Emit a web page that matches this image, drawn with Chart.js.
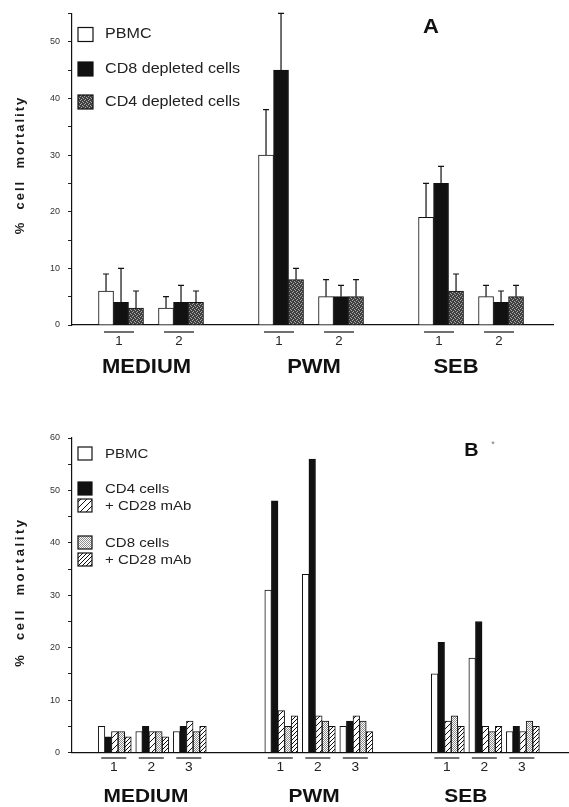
<!DOCTYPE html>
<html><head><meta charset="utf-8">
<script src="https://cdn.jsdelivr.net/npm/chart.js@4.4.1/dist/chart.umd.min.js"></script>
<style>
html,body{margin:0;padding:0;background:#fff;}
#wrap{position:relative;width:569px;height:807px;overflow:hidden;background:#fff;}
canvas{position:absolute;left:0;}
</style></head><body>
<div id="wrap">
<canvas id="cA" width="569" height="400" style="top:0"></canvas>
<canvas id="cB" width="569" height="407" style="top:400px"></canvas>
</div>
<script>
// ---------- Panel A data ----------
const categoriesA = ['MEDIUM', 'PWM', 'SEB'];
const repLabelsA = ['1', '2'];
const seriesA = ['PBMC', 'CD8 depleted cells', 'CD4 depleted cells'];
const pbmcA = [6, 3, 30, 5, 19, 5];
const cd8DepA = [4, 4, 45, 5, 25, 4];
const cd4DepA = [3, 4, 8, 5, 6, 5];
const pbmcErrA = [3, 2, 8, 3, 6, 2];
const cd8DepErrA = [6, 3, 10, 2, 3, 2];
const cd4DepErrA = [3, 2, 2, 3, 3, 2];
const yTicksA = [0, 10, 20, 30, 40, 50];

// ---------- Panel B data ----------
const categoriesB = ['MEDIUM', 'PWM', 'SEB'];
const repLabelsB = ['1', '2', '3'];
const seriesB = ['PBMC', 'CD4 cells', '+ CD28 mAb', 'CD8 cells', '+ CD28 mAb'];
const pbmcB = [5, 4, 4, 31, 34, 5, 15, 18, 4];
const cd4B = [3, 5, 5, 48, 56, 6, 21, 25, 5];
const cd4Cd28B = [4, 4, 6, 8, 7, 7, 6, 5, 4];
const cd8B = [4, 4, 4, 5, 6, 6, 7, 4, 6];
const cd8Cd28B = [3, 3, 5, 7, 5, 4, 5, 5, 5];
const yTicksB = [0, 10, 20, 30, 40, 50, 60];

const FONT = "'Liberation Sans', Arial, Helvetica, sans-serif";
Chart.defaults.font.family = FONT;

function makeStipple(base, dot, pts, size) {
  const c = document.createElement('canvas'); c.width = c.height = size;
  const x = c.getContext('2d'); x.fillStyle = base; x.fillRect(0, 0, size, size);
  x.fillStyle = dot; pts.forEach(p => x.fillRect(p[0], p[1], 1, 1));
  return x.createPattern(c, 'repeat');
}
function makeHatch(s, color, w) {
  const c = document.createElement('canvas'); c.width = c.height = s;
  const x = c.getContext('2d'); x.fillStyle = '#fff'; x.fillRect(0, 0, s, s);
  x.strokeStyle = color; x.lineWidth = w; x.beginPath();
  x.moveTo(0, s); x.lineTo(s, 0); x.moveTo(-1, 1); x.lineTo(1, -1);
  x.moveTo(s - 1, s + 1); x.lineTo(s + 1, s - 1); x.stroke();
  return x.createPattern(c, 'repeat');
}
const darkStipple = makeStipple('#404040', '#a8a8a8', [[0,0],[2,1],[1,3],[3,2]], 4);
const lightStipple = makeStipple('#ffffff', '#8c8c8c', [[0,0],[2,0],[1,1],[3,1],[0,2],[2,2],[1,3],[3,3]], 4);
const sparseHatch = makeHatch(6, '#111', 1);
const denseHatch = makeHatch(4, '#111', 1);

function toPoints(vals, nReps, catStep) {
  return vals.map((v, i) => ({ x: Math.floor(i / nReps) * catStep + (i % nReps), y: v }));
}

function stretchText(ctx, txt, x, y, font, sx, align, color) {
  ctx.save();
  ctx.font = font; ctx.fillStyle = color; ctx.textAlign = align; ctx.textBaseline = 'middle';
  ctx.translate(x, y); ctx.scale(sx, 1); ctx.fillText(txt, 0, 0);
  ctx.restore();
}

const decor = {
  id: 'decor',
  afterDatasetsDraw(chart) {
    const ctx = chart.ctx, ys = chart.scales.y;
    ctx.save();
    ctx.strokeStyle = '#111'; ctx.lineWidth = 1.2;
    chart.data.datasets.forEach((ds, di) => {
      if (!ds.errors) return;
      const meta = chart.getDatasetMeta(di);
      meta.data.forEach((el, j) => {
        const yT = ys.getPixelForValue(ds.data[j].y + ds.errors[j]);
        ctx.beginPath();
        ctx.moveTo(el.x, el.y); ctx.lineTo(el.x, yT);
        ctx.moveTo(el.x - 3, yT); ctx.lineTo(el.x + 3, yT);
        ctx.stroke();
      });
    });
    ctx.restore();
  },
  afterDraw(chart, args, o) {
    const ctx = chart.ctx, xs = chart.scales.x;
    // y title
    const t = o.yTitle;
    ctx.save();
    ctx.translate(t.x, t.y); ctx.rotate(-Math.PI / 2);
    ctx.font = t.font; ctx.fillStyle = '#1a1a1a';
    ctx.letterSpacing = t.spacing + 'px';
    ctx.textAlign = 'center'; ctx.textBaseline = 'middle';
    ctx.fillText(t.text, 0, 0);
    ctx.restore();
    // legend
    const L = o.legend;
    chart.data.datasets.forEach((ds, i) => {
      const y = L.rows[i];
      const by = y - L.boxH / 2 + L.boxDy;
      ctx.save();
      ctx.fillStyle = ds.backgroundColor;
      ctx.fillRect(L.x, by, L.boxW, L.boxH);
      ctx.strokeStyle = '#111'; ctx.lineWidth = 1.2;
      ctx.strokeRect(L.x, by, L.boxW, L.boxH);
      ctx.restore();
      stretchText(ctx, ds.label, L.textX, y, L.font, L.sx, 'left', '#222');
    });
    // group labels
    ctx.save();
    ctx.strokeStyle = '#222'; ctx.lineWidth = 1.3;
    o.cats.forEach((cat, c) => {
      o.reps.forEach((rep, r) => {
        const px = xs.getPixelForValue(c * o.catStep + r) + o.shift;
        ctx.beginPath(); ctx.moveTo(px - o.ulHalf, o.ulY); ctx.lineTo(px + o.ulHalf, o.ulY); ctx.stroke();
        stretchText(ctx, rep, px, o.numY, o.numFont, 1.1, 'center', '#222');
      });
      const mid = xs.getPixelForValue(c * o.catStep + (o.reps.length - 1) / 2) + o.catNudge[c];
      stretchText(ctx, cat, mid, o.catY, o.catFont, o.catSx, 'center', '#111');
    });
    ctx.restore();
    // panel letter
    const P = o.letter;
    stretchText(ctx, P.text, P.x, P.y, P.font, 1.1, 'center', '#111');
    if (o.mark) stretchText(ctx, o.mark.text, o.mark.x, o.mark.y, o.mark.font, 1, 'center', '#777');
  }
};

function yAxis(max, ticksList) {
  return {
    min: 0, max: max,
    ticks: { stepSize: 5, autoSkip: false, padding: 8, color: '#333', font: { size: 9, family: FONT },
             callback: v => ticksList.includes(v) ? String(v) : '' },
    grid: { drawOnChartArea: false, drawTicks: true, tickLength: 4, color: '#222', lineWidth: 1 },
    border: { display: true, color: '#111', width: 1.2 },
    afterFit: s => { s.width = 72; }
  };
}
function xAxis(min, max, h) {
  return {
    type: 'linear', min: min, max: max, offset: false,
    grid: { display: false },
    ticks: { display: false },
    border: { display: true, color: '#111', width: 1.2 },
    afterFit: s => { s.height = h; }
  };
}
function bar(label, vals, nReps, catStep, bg, thick, errs) {
  const d = {
    label: label, data: toPoints(vals, nReps, catStep),
    backgroundColor: bg, borderColor: '#111', borderWidth: 1, barThickness: thick
  };
  if (errs) d.errors = errs;
  return d;
}

// ---------- Panel A ----------
const catStepA = 2.667;
new Chart(document.getElementById('cA'), {
  type: 'bar',
  data: {
    datasets: [
      bar(seriesA[0], pbmcA, repLabelsA.length, catStepA, '#ffffff', 15, pbmcErrA),
      bar(seriesA[1], cd8DepA, repLabelsA.length, catStepA, '#111111', 15, cd8DepErrA),
      bar(seriesA[2], cd4DepA, repLabelsA.length, catStepA, darkStipple, 15, cd4DepErrA)
    ]
  },
  options: {
    responsive: false, animation: false,
    layout: { padding: { top: 13, right: 16, left: 0, bottom: 0 } },
    scales: { x: xAxis(-0.817, 7.2, 75), y: yAxis(55, yTicksA) },
    plugins: {
      legend: { display: false }, tooltip: { enabled: false },
      decor: {
        yTitle: { text: '%  cell  mortality', x: 20, y: 165, font: 'bold 13px ' + FONT, spacing: 2 },
        legend: { x: 78, boxW: 15, boxH: 14, boxDy: 0, textX: 105, rows: [34.5, 69, 102], font: '14px ' + FONT, sx: 1.15 },
        cats: categoriesA, reps: repLabelsA, catStep: catStepA,
        shift: -2, ulHalf: 15, ulY: 332, numY: 342, numFont: '12px ' + FONT,
        catY: 367, catFont: 'bold 20px ' + FONT, catSx: 1.1, catNudge: [-4.5, 3, -15],
        letter: { text: 'A', x: 431, y: 27.5, font: 'bold 20px ' + FONT }
      }
    }
  },
  plugins: [decor]
});

// ---------- Panel B ----------
const catStepB = 4.44;
new Chart(document.getElementById('cB'), {
  type: 'bar',
  data: {
    datasets: [
      bar(seriesB[0], pbmcB, repLabelsB.length, catStepB, '#ffffff', 6.6),
      bar(seriesB[1], cd4B, repLabelsB.length, catStepB, '#111111', 6.6),
      bar(seriesB[2], cd4Cd28B, repLabelsB.length, catStepB, sparseHatch, 6.6),
      bar(seriesB[3], cd8B, repLabelsB.length, catStepB, lightStipple, 6.6),
      bar(seriesB[4], cd8Cd28B, repLabelsB.length, catStepB, denseHatch, 6.6)
    ]
  },
  options: {
    responsive: false, animation: false,
    layout: { padding: { top: 38, right: 0, left: 0, bottom: 0 } },
    scales: { x: xAxis(-1.14, 12.11, 54.5), y: yAxis(60, yTicksB) },
    plugins: {
      legend: { display: false }, tooltip: { enabled: false },
      decor: {
        yTitle: { text: '%  cell  mortality', x: 20, y: 192, font: 'bold 13px ' + FONT, spacing: 2.6 },
        legend: { x: 78, boxW: 14, boxH: 13, boxDy: -1.5, textX: 105, rows: [55, 90, 107, 144, 161], font: '12.5px ' + FONT, sx: 1.2 },
        cats: categoriesB, reps: repLabelsB, catStep: catStepB,
        shift: -1, ulHalf: 12.5, ulY: 358, numY: 368, numFont: '12.5px ' + FONT,
        catY: 397, catFont: 'bold 19px ' + FONT, catSx: 1.1, catNudge: [-6.3, -4.8, -19.5],
        letter: { text: 'B', x: 471.5, y: 51.5, font: 'bold 18px ' + FONT },
        mark: { text: '*', x: 493, y: 45, font: '9px ' + FONT }
      }
    }
  },
  plugins: [decor]
});
</script>
</body></html>
